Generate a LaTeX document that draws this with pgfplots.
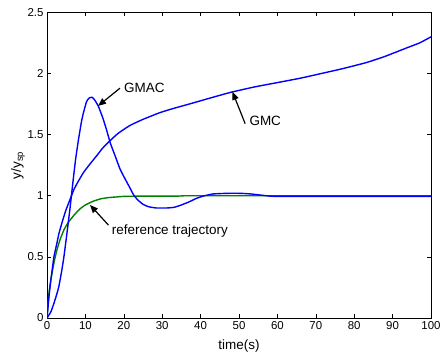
\documentclass[border=0pt]{standalone}
\usepackage{fontspec}
\setmainfont{Liberation Sans}
\usepackage{pgfplots}
\pgfplotsset{compat=1.18}
\usetikzlibrary{arrows.meta}
\definecolor{mblue}{RGB}{0,0,255}
\definecolor{mgreen}{RGB}{0,128,0}
\begin{document}
\begin{tikzpicture}[x=1bp,y=1bp]
\begin{axis}[
  at={(0,0)}, anchor=south west,
  scale only axis, width=384bp, height=305.6bp,
  xmin=0, xmax=100, ymin=0, ymax=2.5,
  xtick={0,10,...,100}, ytick={0,0.5,1,1.5,2,2.5},
  tick align=inside, major tick length=4bp,
  axis line style={line width=0.9bp},
  tick style={black, line width=0.6bp},
  ticklabel style={font=\fontsize{11.5}{12}\selectfont},
  /pgf/number format/assume math mode=true,
  yticklabel style={/pgf/number format/fixed},
  xlabel={time(s)}, ylabel={y/y\textsubscript{sp}},
  label style={font=\fontsize{13.5}{15}\selectfont},
  xlabel style={at={(axis description cs:0.5,0)}, anchor=center, yshift=-28bp},
  ylabel style={at={(axis description cs:0,0.5)}, anchor=center, yshift=29bp},
]
% reference trajectory
\addplot[mgreen, line width=1.4bp, smooth, tension=0.3] coordinates {
(0,0) (0.5,0.2) (1,0.31) (1.5,0.40) (2,0.48) (2.7,0.57) (3.5,0.65) (4.4,0.72)
(5.5,0.78) (7,0.84) (8.5,0.89) (10,0.925) (12,0.955) (14,0.975) (16,0.985)
(18,0.99) (20,0.995) (25,0.997) (34,0.997) (36,1.0) (50,1.0) (70,1.0) (100,1.0)};
% GMC
\addplot[mblue, line width=1.4bp, smooth, tension=0.3] coordinates {
(0,0) (0.5,0.17) (1,0.31) (1.8,0.5) (2.5,0.6) (3.1,0.69) (4,0.79) (4.9,0.88)
(6,0.97) (7,1.05) (8,1.11) (9.5,1.19) (11.2,1.26) (13,1.33) (14.5,1.39)
(16.4,1.45) (18.5,1.51) (21.6,1.575) (25,1.625) (29.4,1.68) (33,1.715) (37,1.75)
(42,1.795) (47.7,1.845) (54,1.89) (60.7,1.93) (66,1.962) (71,1.997) (77,2.04)
(83.2,2.09) (88,2.14) (93.7,2.21) (97,2.25) (100,2.30)};
% GMAC
\addplot[mblue, line width=1.4bp, smooth, tension=0.3] coordinates {
(0,0) (1,0.05) (1.8,0.12) (2.5,0.19) (3.1,0.26) (3.8,0.38) (4.4,0.50) (5.3,0.72)
(6.0,0.90) (6.5,1.04) (7.0,1.18) (7.5,1.31) (8.2,1.46) (9.0,1.61) (9.5,1.68)
(10.3,1.77) (11,1.80) (11.8,1.805) (12.5,1.78) (13.4,1.73) (14.5,1.64)
(15.5,1.54) (16.5,1.43) (17.7,1.33) (19,1.22) (20.3,1.14) (21.5,1.07)
(22.5,1.01) (23.5,0.97) (25,0.93) (26.5,0.91) (28.5,0.90) (31.2,0.90)
(33,0.905) (34.6,0.92) (37,0.95) (39,0.98) (41,1.0) (43.3,1.015) (47,1.02)
(50.3,1.02) (53,1.015) (57.2,1.0) (60,0.995) (80,0.995) (100,0.995)};
% annotations
\draw[-{Triangle[length=8bp,width=6.5bp]}, line width=1.2bp] (axis cs:19,1.88) -- (axis cs:13.3,1.735);
\node[anchor=base west, inner sep=0pt, font=\fontsize{13.5}{15}\selectfont] at (axis cs:20.05,1.847) {GMAC};
\draw[-{Triangle[length=8bp,width=6.5bp]}, line width=1.2bp] (axis cs:51.6,1.59) -- (axis cs:48.3,1.85);
\node[anchor=base west, inner sep=0pt, font=\fontsize{13.5}{15}\selectfont] at (axis cs:52.7,1.571) {GMC};
\draw[-{Triangle[length=8bp,width=6.5bp]}, line width=1.2bp] (axis cs:16,0.76) -- (axis cs:11.2,0.925);
\node[anchor=base west, inner sep=0pt, font=\fontsize{13.5}{15}\selectfont] at (axis cs:16.85,0.687) {reference trajectory};
\end{axis}
\pgfresetboundingbox
\path[use as bounding box] (-47,-39) rectangle (393,318);
\end{tikzpicture}
\end{document}
